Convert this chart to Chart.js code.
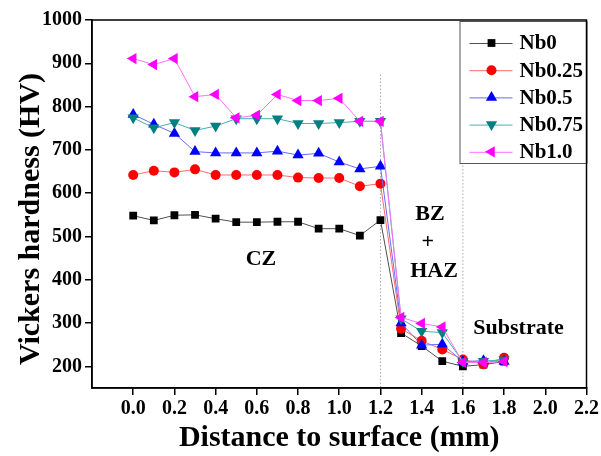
<!DOCTYPE html>
<html><head><meta charset="utf-8">
<script src="https://cdn.jsdelivr.net/npm/chart.js@4.4.0/dist/chart.umd.min.js"></script>
<style>html,body{margin:0;padding:0;background:#fff;}#wrap{width:601px;height:456px;}</style>
</head><body><div id="wrap"><canvas id="c" width="601" height="456"></canvas></div>
<script>
const distance = [0.0,0.1,0.2,0.3,0.4,0.5,0.6,0.7,0.8,0.9,1.0,1.1,1.2,1.3,1.4,1.5,1.6,1.7,1.8];
const nb0   = [548,537,549,550,541,533,533,534,534,518,518,502,538,277,247,212,200,204,211];
const nb025 = [642,652,648,655,642,642,642,642,636,635,635,616,622,287,259,239,216,205,220];
const nb05  = [782,759,738,696,693,693,693,697,688,692,672,656,662,300,249,251,211,213,211];
const nb075 = [774,751,763,745,755,772,772,772,761,761,763,766,766,310,281,278,211,212,215];
const nb10  = [911,897,911,823,828,774,780,828,814,814,819,766,766,313,299,291,209,209,211];
const seriesNames = ['Nb0','Nb0.25','Nb0.5','Nb0.75','Nb1.0'];
const xTicks = [0.0,0.2,0.4,0.6,0.8,1.0,1.2,1.4,1.6,1.8,2.0,2.2];
const yTicks = [200,300,400,500,600,700,800,900,1000];
const zoneBoundaries = [1.2, 1.6];
const zoneLineTop = 874;
const zoneLineBottom = 150;
const zoneLabels = ['CZ','BZ','+','HAZ','Substrate'];
const zoneLabelX = [0.62,1.44,1.43,1.46,1.87];
const zoneLabelY = [447,551,486,419,287];
const xTitle = 'Distance to surface (mm)';
const yTitle = 'Vickers hardness (HV)';

const FONT = "'Liberation Serif','Times New Roman',serif";
const pts = arr => arr.map((v,i)=>({x:distance[i], y:v}));

const styles = [
  {marker:'#000000', line:'#505050', pointStyle:'rect', radius:5.5, rotation:0, order:5},
  {marker:'#ff0000', line:'#ff6a6a', pointStyle:'circle', radius:5, rotation:0, order:4},
  {marker:'#0000ff', line:'#6a6aff', pointStyle:'triangle', radius:6.5, rotation:0, order:3},
  {marker:'#008080', line:'#45b0b0', pointStyle:'triangle', radius:6.5, rotation:180, order:2},
  {marker:'#ff00ff', line:'#ff70ff', pointStyle:'triangle', radius:6.5, rotation:270, order:1}
];
const values = [nb0, nb025, nb05, nb075, nb10];

const datasets = values.map((vals,i)=>({
  label: seriesNames[i],
  data: pts(vals),
  showLine: true,
  borderColor: styles[i].line,
  borderWidth: 1,
  backgroundColor: styles[i].marker,
  pointBackgroundColor: styles[i].marker,
  pointBorderColor: styles[i].marker,
  pointBorderWidth: 0,
  pointStyle: styles[i].pointStyle,
  pointRadius: styles[i].radius,
  pointRotation: styles[i].rotation,
  order: styles[i].order,
  isSeries: true,
  markerStyle: styles[i]
}));
zoneBoundaries.forEach(b=>{
  datasets.push({
    label: 'zone', data:[{x:b,y:zoneLineTop},{x:b,y:zoneLineBottom}],
    showLine:true, borderColor:'#a8a8a8', borderWidth:1, borderDash:[1.5,2],
    pointRadius:0, order:10, isSeries:false
  });
});

function drawMarker(ctx, st, x, y) {
  const r = st.radius;
  ctx.fillStyle = st.marker;
  ctx.beginPath();
  if (st.pointStyle === 'rect') {
    const s = Math.SQRT1_2 * r;
    ctx.rect(x - s, y - s, 2*s, 2*s);
  } else if (st.pointStyle === 'circle') {
    ctx.arc(x, y, r, 0, Math.PI*2);
  } else {
    let rad = st.rotation * Math.PI/180;
    ctx.moveTo(x + Math.sin(rad)*r, y - Math.cos(rad)*r);
    rad += 2*Math.PI/3;
    ctx.lineTo(x + Math.sin(rad)*r, y - Math.cos(rad)*r);
    rad += 2*Math.PI/3;
    ctx.lineTo(x + Math.sin(rad)*r, y - Math.cos(rad)*r);
    ctx.closePath();
  }
  ctx.fill();
}

const decor = {
  id:'decor',
  afterDatasetsDraw(chart){
    const ctx = chart.ctx, xs = chart.scales.x, ys = chart.scales.y;
    ctx.save();
    ctx.fillStyle = '#000';
    ctx.font = "bold 22px " + FONT;
    ctx.textAlign = 'center';
    ctx.textBaseline = 'middle';
    zoneLabels.forEach((t,i)=>{
      ctx.fillText(t, xs.getPixelForValue(zoneLabelX[i]), ys.getPixelForValue(zoneLabelY[i]));
    });
    ctx.restore();
  },
  afterDraw(chart){
    const ctx = chart.ctx, a = chart.chartArea;
    ctx.save();
    // y axis title
    ctx.fillStyle = '#000';
    ctx.font = "bold 30px " + FONT;
    ctx.textAlign = 'center';
    ctx.textBaseline = 'middle';
    ctx.translate(31, (a.top + a.bottom)/2 + 15);
    ctx.rotate(-Math.PI/2);
    ctx.fillText(yTitle, 0, 0);
    ctx.setTransform(1,0,0,1,0,0);
    // legend
    const lw = 127, lh = 142;
    const lx = a.right - lw, ly = a.top + 1;
    ctx.fillStyle = '#fff';
    ctx.fillRect(lx, ly, lw, lh);
    ctx.strokeStyle = '#555';
    ctx.lineWidth = 1;
    ctx.strokeRect(lx + 0.5, ly + 0.5, lw, lh);
    const series = chart.data.datasets.filter(d=>d.isSeries);
    series.forEach((d,i)=>{
      const y = ly + 22 + i*27.2;
      ctx.strokeStyle = d.borderColor;
      ctx.lineWidth = 1;
      ctx.beginPath();
      ctx.moveTo(lx + 10, y + 0.5);
      ctx.lineTo(lx + 53, y + 0.5);
      ctx.stroke();
      drawMarker(ctx, d.markerStyle, lx + 32, y);
      ctx.fillStyle = '#000';
      ctx.font = "bold 21px " + FONT;
      ctx.textAlign = 'left';
      ctx.textBaseline = 'middle';
      ctx.fillText(d.label, lx + 60, y + 1);
    });
    // frame
    ctx.strokeStyle = '#000';
    ctx.lineWidth = 1.5;
    ctx.strokeRect(a.left, a.top, a.right - a.left, a.bottom - a.top);
    ctx.restore();
  }
};

new Chart(document.getElementById('c'), {
  type: 'scatter',
  data: { datasets },
  plugins: [decor],
  options: {
    responsive:false, animation:false, devicePixelRatio:1,
    layout:{padding:{top:20,right:14,left:0,bottom:0}},
    plugins:{legend:{display:false}, tooltip:{enabled:false}},
    scales:{
      x:{
        type:'linear', min:-0.2, max:2.2,
        afterBuildTicks: s=>{ s.ticks = xTicks.map(v=>({value:v})); },
        afterFit: s=>{ s.height = 68; },
        ticks:{ callback: v=>Number(v).toFixed(1), font:{family:FONT,size:20,weight:'bold'}, color:'#000', padding:2, maxRotation:0, autoSkip:false },
        grid:{ drawOnChartArea:false, color:'#000', tickLength:7, lineWidth:1.5 },
        border:{ color:'#000', width:1.5 },
        title:{ display:true, text:xTitle, font:{family:FONT,size:30,weight:'bold'}, color:'#000', padding:{top:0,bottom:0} }
      },
      y:{
        type:'linear', min:150, max:1000,
        afterBuildTicks: s=>{ s.ticks = yTicks.map(v=>({value:v})); },
        afterFit: s=>{ s.width = 92; },
        ticks:{ callback: v=>String(v), font:{family:FONT,size:20,weight:'bold'}, color:'#000', padding:3, autoSkip:false },
        grid:{ drawOnChartArea:false, color:'#000', tickLength:7, lineWidth:1.5 },
        border:{ color:'#000', width:1.5 },
        title:{ display:false, text:yTitle }
      }
    }
  }
});
</script></body></html>
